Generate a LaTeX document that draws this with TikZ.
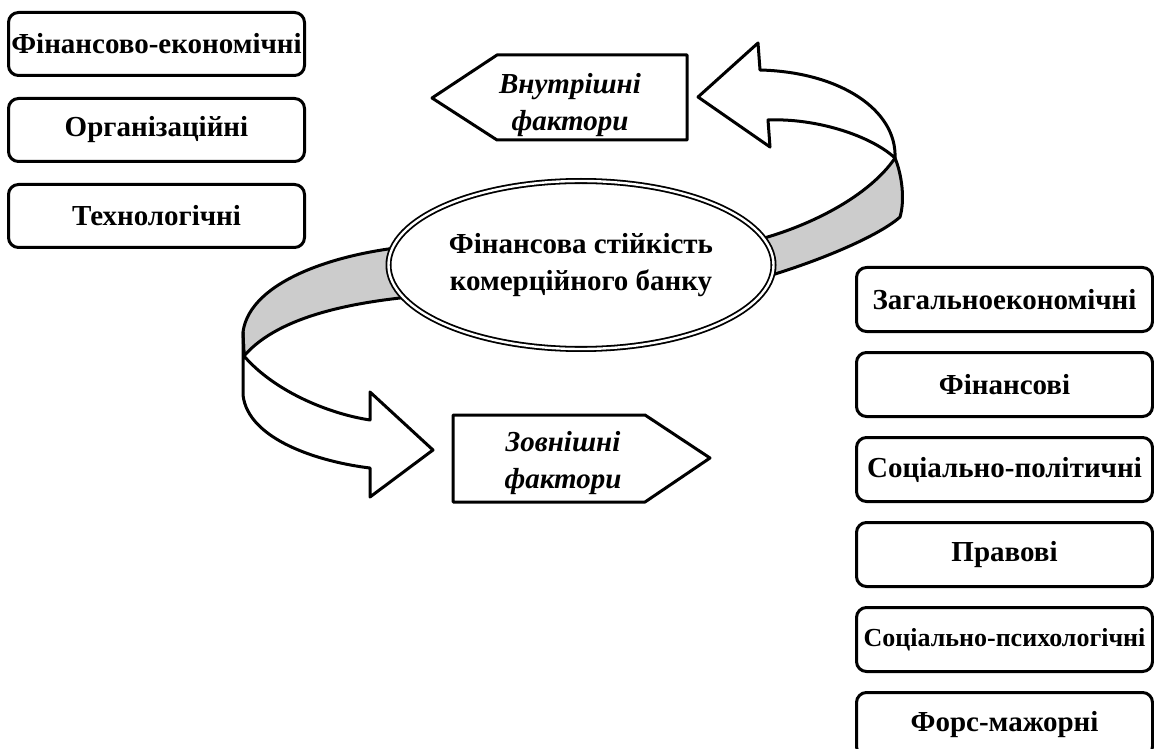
\documentclass[tikz,border=0pt]{standalone}
\usepackage{fontspec}
\setmainfont{Liberation Serif}
\usetikzlibrary{positioning, shapes.geometric}
\definecolor{bandgray}{HTML}{CCCCCC}

\begin{document}
\begin{tikzpicture}[x=0.5pt, y=-0.5pt, line width=1.5pt, line join=round,
  factor/.style={draw, rounded corners=5pt, minimum width=148pt, minimum height=32pt,
    inner sep=0pt, font=\fontsize{14.5}{16}\selectfont\bfseries},
  band/.style={draw, fill=bandgray},
  ribbon/.style={draw, fill=white},
  arrowlbl/.style={align=center, font=\fontsize{14.5}{18.5}\selectfont\bfseries\itshape}]

% Frame
\clip (0,0) rectangle (1154,748);

% --- Internal factors (left column) ---
\node[factor, minimum height=31.5pt] (fineco) at (156.5,44) {Фінансово-економічні};
\node[factor, minimum height=31.5pt, below=10pt of fineco] (org) {Організаційні};
\node[factor, minimum height=31.5pt, below=10pt of org] (tech) {Технологічні};

% --- External factors (right column) ---
\node[factor] (geneco) at (1004.5,299.5) {Загальноекономічні};
\node[factor, below=9pt of geneco] (fin) {Фінансові};
\node[factor, below=9pt of fin] (socpol) {Соціально-політичні};
\node[factor, below=9pt of socpol] (law) {Правові};
\node[factor, below=9pt of law, font=\fontsize{13}{16}\selectfont\bfseries] (socpsy) {Соціально-психологічні};
\node[factor, below=9pt of socpsy] (force) {Форс-мажорні};

% --- Ribbon arrow to the upper right ---
\draw[band] (895,158) .. controls (870,195) and (810,228) .. (745,243)
  -- (748,282) .. controls (820,262) and (880,235) .. (900,217)
  .. controls (905,200) and (902,175) .. (895,158) -- cycle;
\draw[ribbon] (895,158) .. controls (870,135) and (815,118) .. (768,120)
  -- (770,147) -- (698,97) -- (758,43) -- (760,70)
  .. controls (840,72) and (897,110) .. (895,158) -- cycle;

% --- Ribbon arrow to the lower left ---
\draw[band] (243,332) .. controls (250,280) and (340,252) .. (415,246)
  -- (420,296) .. controls (340,303) and (275,320) .. (244,356) -- cycle;
\draw[ribbon] (244,356) .. controls (275,392) and (330,414) .. (370,420)
  -- (370,392) -- (433,450) -- (370,497) -- (370,468)
  .. controls (320,462) and (248,440) .. (243,395) -- (243,332) -- cycle;

% --- Core ---
\node[ellipse, draw, fill=white, line width=0.9pt, double, double distance=1.2pt,
  minimum width=192.5pt, minimum height=84pt, inner sep=0pt, align=center,
  font=\fontsize{14.5}{14.5}\selectfont\bfseries] (core) at (581,265)
  {Фінансова стійкість\\[4pt]комерційного банку};

% --- Direction labels ---
\draw (432,98) -- (497,55) -- (687,55) -- (687,140) -- (497,140) -- cycle;
\node[arrowlbl] (inner) at (570,105) {Внутрішні\\фактори};
\draw (453,415) -- (645,415) -- (710,458) -- (645,502) -- (453,502) -- cycle;
\node[arrowlbl] (outer) at (563,463) {Зовнішні\\фактори};

\end{tikzpicture}
\end{document}
